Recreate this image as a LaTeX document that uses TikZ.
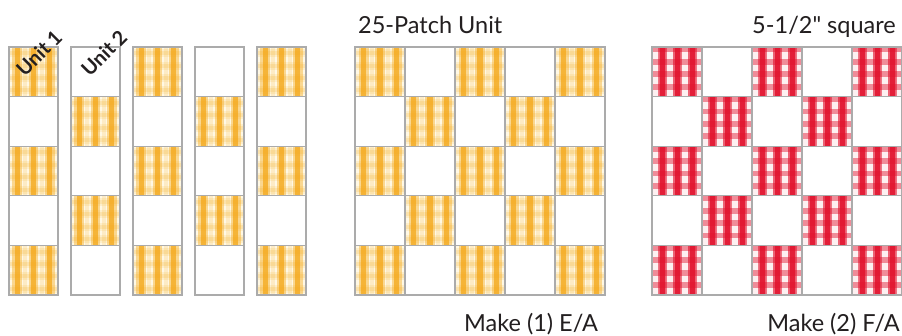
\documentclass[tikz,border=0pt]{standalone}
\usepackage{fontspec}
% plain family without TeX ligatures, so " stays a straight inch mark
\newfontfamily\capfont{Lato}
\definecolor{gold}{HTML}{F4A614}
\definecolor{goldpale}{HTML}{FFF8E4}
\definecolor{gingred}{HTML}{E2132E}
\definecolor{frame}{HTML}{ABABAB}
\definecolor{ink}{HTML}{231F20}

% yellow gingham patch: x, y, width, height (y grows downward)
\newcommand\gingY[4]{%
  \fill[goldpale] ({#1},{#2}) rectangle ++({#3},{#4});
  \foreach \f in {0.125,0.375,0.625,0.875}{
    \fill[gold,opacity=.12] ({#1},{#2+(\f-0.08)*#4}) rectangle ++({#3},{0.16*#4});
    \fill[gold,opacity=.16] ({#1},{#2+(\f-0.04)*#4}) rectangle ++({#3},{0.08*#4});
  }
  \foreach \f in {0.17,0.5,0.83}{
    \fill[gold,opacity=.4] ({#1+(\f-0.1)*#3},{#2}) rectangle ++({0.2*#3},{#4});
    \fill[gold,opacity=.7] ({#1+(\f-0.055)*#3},{#2}) rectangle ++({0.11*#3},{#4});
  }
  \foreach \f in {0.335,0.665}{
    \fill[gold,opacity=.15] ({#1+(\f-0.04)*#3},{#2}) rectangle ++({0.08*#3},{#4});
  }
}
% red gingham patch
\newcommand\gingR[4]{%
  \fill[gingred!25] ({#1},{#2}) rectangle ++({#3},{#4});
  \foreach \f in {0.06,0.35,0.65,0.94}{
    \fill[white,opacity=.75] ({#1+(\f-0.07)*#3},{#2}) rectangle ++({0.14*#3},{#4});
  }
  \foreach \f in {0.2,0.5,0.8}{
    \fill[gingred,opacity=.55] ({#1+(\f-0.09)*#3},{#2}) rectangle ++({0.18*#3},{#4});
    \fill[gingred,opacity=.85] ({#1+(\f-0.05)*#3},{#2}) rectangle ++({0.1*#3},{#4});
  }
  \foreach \f in {0.05,0.3,0.55,0.8}{
    \fill[gingred,opacity=.45] ({#1},{#2+(\f-0.06)*#4}) rectangle ++({#3},{0.12*#4});
  }
}

\tikzset{
  cellframe/.style={draw=frame, line width=1.3pt},
  caption/.style={font=\capfont\fontsize{23.5}{28}\selectfont, text=ink, inner sep=0pt},
  unitlabel/.style={font=\capfont\bfseries\fontsize{20}{24}\selectfont, text=ink, rotate=45, inner sep=0pt}
}

\begin{document}
\begin{tikzpicture}[x=1pt,y=-1pt]
  \useasboundingbox (0,0) rectangle (902,335);
  \fill[white] (0,0) rectangle (902,335);

  % five separate strips, alternating Unit 1 / Unit 2
  \foreach \c in {0,...,4}{
    \foreach \r in {0,...,4}{
      \pgfmathsetmacro\xx{9+62*\c}
      \pgfmathsetmacro\yy{47+49.6*\r}
      \pgfmathtruncatemacro\parity{mod(\c+\r,2)}
      \ifnum\parity=0 \gingY{\xx}{\yy}{49}{49.6}\fi
      \draw[cellframe] (\xx,\yy) rectangle ++(49,49.6);
    }
  }

  % assembled 25-patch unit, yellow
  \foreach \c in {0,...,4}{
    \foreach \r in {0,...,4}{
      \pgfmathsetmacro\xx{355+50*\c}
      \pgfmathsetmacro\yy{47+49.6*\r}
      \pgfmathtruncatemacro\parity{mod(\c+\r,2)}
      \ifnum\parity=0 \gingY{\xx}{\yy}{50}{49.6}\fi
      \draw[cellframe] (\xx,\yy) rectangle ++(50,49.6);
    }
  }

  % assembled 25-patch unit, red
  \foreach \c in {0,...,4}{
    \foreach \r in {0,...,4}{
      \pgfmathsetmacro\xx{652+50*\c}
      \pgfmathsetmacro\yy{47+49.6*\r}
      \pgfmathtruncatemacro\parity{mod(\c+\r,2)}
      \ifnum\parity=0 \gingR{\xx}{\yy}{50}{49.6}\fi
      \draw[cellframe] (\xx,\yy) rectangle ++(50,49.6);
    }
  }

  \node[unitlabel] (u1) at (39,53) {Unit 1};
  \node[unitlabel] (u2) at (104,53) {Unit 2};

  \node[caption, anchor=base west] (title) at (358,33) {25-Patch Unit};
  \node[caption, anchor=base east] (size) at (896,33) {5-1/2" square};
  \node[caption, anchor=base west] (make1) at (464,331) {Make (1) E/A};
  \node[caption, anchor=base east] (make2) at (900,331) {Make (2) F/A};
\end{tikzpicture}
\end{document}
